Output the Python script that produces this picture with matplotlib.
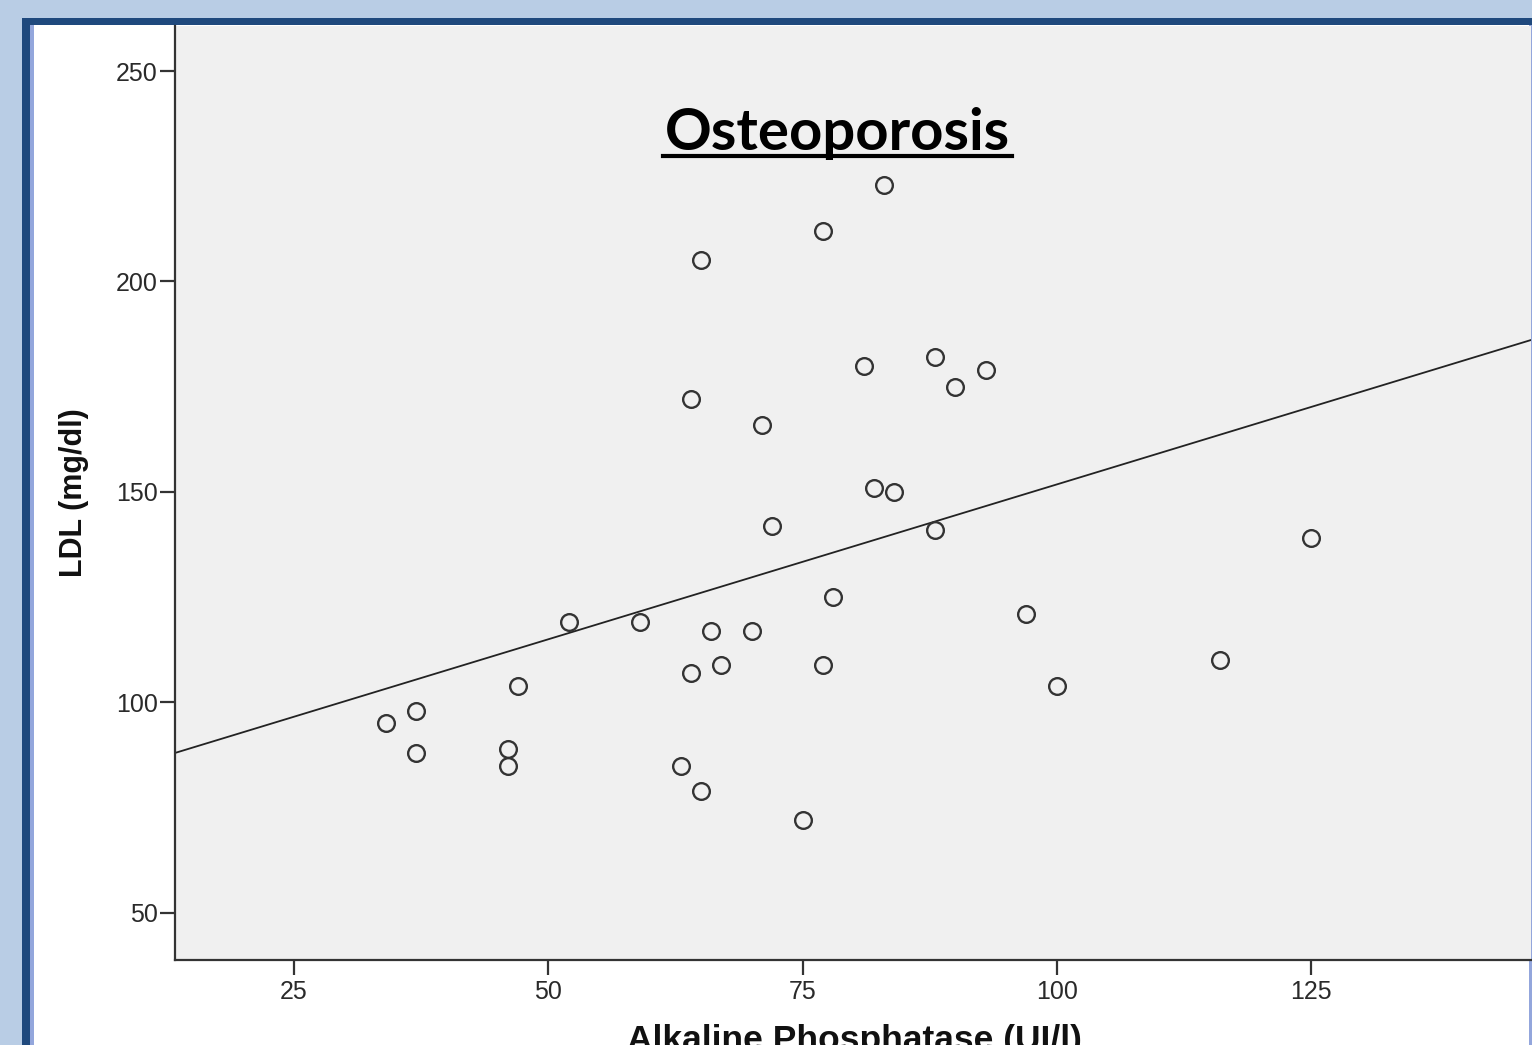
import matplotlib
matplotlib.use("Agg")
import matplotlib.pyplot as plt
from matplotlib.patches import Rectangle
from matplotlib.lines import Line2D
import numpy as np

# ---- data ----
alk_phos = [83, 77, 65, 81, 88, 90, 93, 64, 71, 82, 84, 72, 88, 125, 78, 97,
            52, 59, 66, 70, 67, 77, 116, 64, 47, 100, 37, 34, 37, 46, 46, 63, 65, 75]
ldl = [223, 212, 205, 180, 182, 175, 179, 172, 166, 151, 150, 142, 141, 139, 125, 121,
       119, 119, 117, 117, 109, 109, 110, 107, 104, 104, 98, 95, 88, 89, 85, 85, 79, 72]
fit_intercept = 78.2
fit_slope = 0.736
x_ticks = [25, 50, 75, 100, 125]
y_ticks = [50, 100, 150, 200, 250]
title = "Osteoporosis"
x_label = "Alkaline Phosphatase (UI/l)"
y_label = "LDL (mg/dl)"

W, H = 1532, 1045
fig = plt.figure(figsize=(W / 100, H / 100), dpi=100, facecolor="#B9CDE5")


def rect_px(x0, y0, x1, y1, color, z):
    fig.patches.append(Rectangle((x0 / W, 1 - y1 / H), (x1 - x0) / W, (y1 - y0) / H,
                                 transform=fig.transFigure, facecolor=color,
                                 edgecolor="none", zorder=z))


# frame decorations
rect_px(22, 18, W, H, "#1F497D", -10)
rect_px(30, 25, W, H, "#93A6DC", -9)
rect_px(34, 25, 1529, H, "white", -8)

ax = fig.add_axes([175 / W, (H - 960) / H, (1531 - 175) / W, (960 - 26) / H])
ax.set_facecolor("#F0F0F0")
ax.set_xlim(13.3, 146.6)
ax.set_ylim(38.8, 260.7)

ax.plot(alk_phos, ldl, linestyle="none", marker="o", markersize=12,
        markerfacecolor="none", markeredgecolor="#333333", markeredgewidth=1.7,
        zorder=3)
xs = np.array(ax.get_xlim())
ax.plot(xs, fit_intercept + fit_slope * xs, color="#222222", linewidth=1.3, zorder=2)

for s in ["top", "right"]:
    ax.spines[s].set_visible(False)
for s in ["left", "bottom"]:
    ax.spines[s].set_linewidth(1.6)
    ax.spines[s].set_color("#333333")

ax.set_xticks(x_ticks)
ax.set_yticks(y_ticks)
ax.tick_params(axis="both", direction="out", length=11, width=1.6, color="#333333",
               labelsize=18, labelcolor="#2a2a2a")
ax.tick_params(axis="y", pad=1.5)
ax.tick_params(axis="x", pad=3.5)
for lab in ax.get_xticklabels() + ax.get_yticklabels():
    lab.set_fontfamily("Liberation Sans")

# axis labels
fig.text(74 / W, 1 - 493 / H, y_label, rotation=90, ha="center", va="center",
         fontsize=22, fontweight="bold", family="Liberation Sans", color="#111111")
fig.text(854 / W, 1 - 1050 / H, x_label, ha="center", va="baseline",
         fontsize=25.5, fontweight="bold", family="Liberation Sans", color="#111111")

# title with underline
t = fig.text(665 / W, 1 - 150 / H, title, ha="left", va="baseline",
             fontsize=36, fontweight="bold", family="Lato", color="black")
fig.canvas.draw()
bb = t.get_window_extent()
fs = 36 * 345 / bb.width
t.set_fontsize(fs)
fig.canvas.draw()
bb = t.get_window_extent()
fig.lines.append(Line2D([(bb.x0 - 2) / W, (bb.x1 + 2) / W], [1 - 156 / H, 1 - 156 / H],
                        transform=fig.transFigure, color="black", linewidth=3.0))

fig.savefig("out.png", dpi=100, facecolor=fig.get_facecolor())
